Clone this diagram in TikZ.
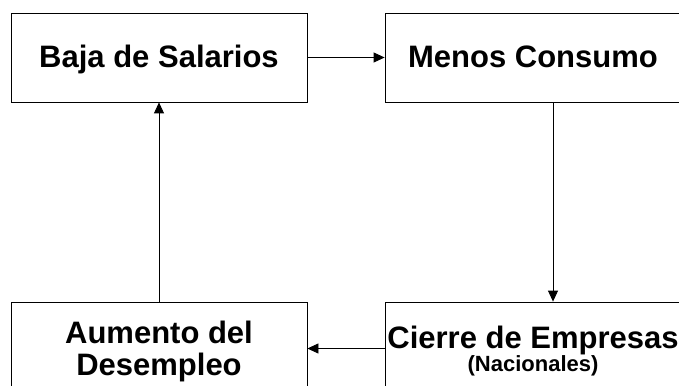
\documentclass[tikz,border=0pt]{standalone}
\usepackage{fontspec}
\setmainfont{Liberation Sans}
\usetikzlibrary{arrows.meta}

\begin{document}
\begin{tikzpicture}
[x=1pt,y=1pt,line width=.8pt,
every node/.style={draw,rectangle,minimum width=296pt,minimum height=89pt,inner sep=0pt,align=center,font=\fontsize{31}{32}\selectfont\bfseries}]
\useasboundingbox (0,0) rectangle (679,-385);
\node[text height=24pt,text depth=4pt] (baja) at (159,-57.5) {Baja de Salarios};
\node[text height=24pt,text depth=4pt] (menos) at (533,-57.5) {Menos Consumo};
\node[minimum height=99pt] (cierre) at (533,-351.5) {Cierre de Empresas\\[-9pt]{\fontsize{22}{22}\selectfont(Nacionales)}};
\node[minimum height=99pt] (aumento) at (159,-351.5) {Aumento del\\Desempleo};
\coordinate (c1) at ([xshift=20pt]menos.south);
\coordinate (c2) at ([xshift=20pt]cierre.north);
\coordinate (c3) at ([yshift=3pt]cierre.west);
\coordinate (c4) at ([yshift=3pt]aumento.east);
\foreach \from/\to in {baja/menos,c1/c2,c3/c4,aumento/baja}
\draw[-{Triangle[length=11pt,width=10pt]}] (\from) -- (\to);
\end{tikzpicture}
\end{document}
